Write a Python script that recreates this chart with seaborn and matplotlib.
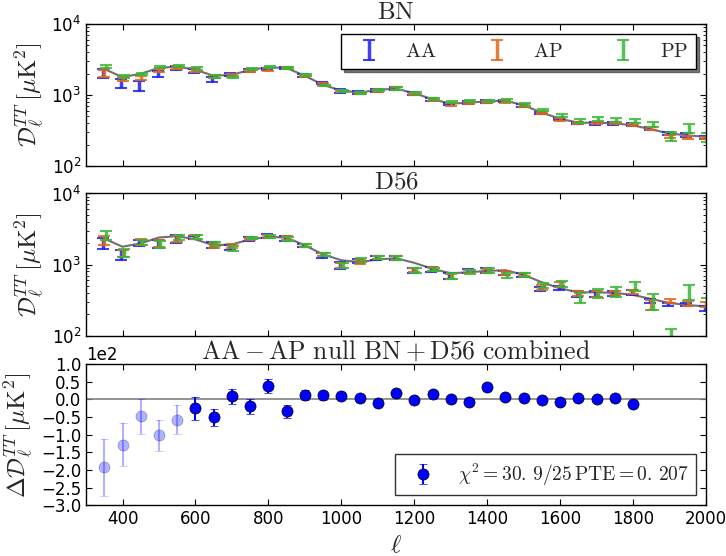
import numpy as np
import pandas as pd
import seaborn as sns
import matplotlib
matplotlib.use('Agg')
import matplotlib.pyplot as plt
from matplotlib.ticker import ScalarFormatter

# multipole bin centres
ell = np.arange(350, 2001, 50)

# binned theory spectrum
theory = [2320, 1780, 1990, 2400, 2510, 2260, 1860, 1920, 2260, 2455, 2390, 1860,
          1385, 1150, 1080, 1178, 1227, 1057, 869, 753, 778, 815, 831, 715,
          562, 462, 406, 406, 398, 373, 327, 287, 269, 257]

# BN patch
bn_aa = [2010, 1450, 1360, 1960, 2410, 2170, 1680, 1960, 2210, 2300, 2370, 1900,
         1470, 1140, 1075, 1150, 1230, 1045, 860, 745, 788, 812, 820, 715,
         556, 460, 403, 398, 398, 381, 335, 286, 272, 252]
bn_aa_err = [290, 210, 215, 180, 155, 140, 135, 105, 95, 80, 70, 85,
             55, 60, 55, 60, 50, 45, 38, 32, 34, 35, 33, 31,
             24, 18, 18, 22, 22, 16, 15, 17, 15, 14]
bn_ap = [2010, 1700, 1730, 2190, 2410, 2230, 1820, 1880, 2165, 2270, 2370, 1850,
         1400, 1140, 1060, 1130, 1230, 1040, 860, 735, 770, 795, 815, 715,
         550, 452, 400, 400, 403, 377, 335, 258, 250, 250]
bn_ap_err = [200, 110, 90, 120, 105, 155, 100, 100, 95, 110, 65, 70,
             60, 45, 40, 40, 45, 40, 35, 30, 32, 32, 35, 30,
             18, 18, 15, 15, 18, 14, 15, 14, 14, 8]
bn_pp = [2520, 1820, 1990, 2480, 2550, 2325, 1820, 1790, 2300, 2480, 2380, 1900,
         1360, 1120, 1060, 1185, 1230, 1065, 870, 790, 815, 825, 835, 730,
         610, 516, 433, 458, 443, 425, 380, 265, 341, 253]
bn_pp_err = [140, 100, 75, 95, 110, 115, 100, 70, 85, 95, 65, 80,
             40, 35, 40, 45, 45, 35, 30, 30, 31, 32, 30, 30,
             24, 22, 24, 25, 24, 28, 30, 38, 48, 34]

# D56 patch
d56_aa = [2000, 1390, 2035, 1945, 2320, 2410, 1875, 1760, 2290, 2540, 2320, 1865,
          1350, 970, 1120, 1230, 1245, 830, 845, 688, 808, 822, 757, 709,
          459, 470, 385, 385, 395, 406, 304, 272, 272, 242]
d56_aa_err = [355, 225, 200, 240, 310, 150, 170, 145, 175, 180, 200, 100,
              95, 100, 75, 70, 80, 60, 65, 67, 52, 67, 42, 46,
              30, 30, 32, 32, 35, 33, 20, 12, 15, 18]
d56_ap = [2220, 1425, 2095, 2000, 2285, 2450, 1830, 1835, 2290, 2500, 2360, 1880,
          1390, 975, 1100, 1245, 1245, 840, 870, 690, 800, 808, 757, 720,
          478, 532, 390, 385, 400, 415, 273, 304, 285, 278]
d56_ap_err = [325, 155, 195, 235, 235, 130, 120, 130, 100, 140, 120, 90,
              80, 90, 70, 55, 70, 50, 47, 55, 45, 55, 42, 40,
              38, 43, 28, 32, 30, 25, 44, 20, 25, 22]
d56_pp = [2590, 1460, 2070, 1910, 2410, 2450, 1940, 1685, 2360, 2500, 2300, 1865,
          1390, 975, 1155, 1245, 1245, 830, 860, 685, 781, 830, 698, 710,
          505, 541, 339, 391, 412, 500, 307, 95, 417, 215]
d56_pp_err = [405, 190, 170, 210, 220, 130, 105, 150, 100, 140, 150, 90,
              80, 70, 75, 55, 70, 60, 45, 65, 43, 65, 57, 46,
              40, 52, 55, 57, 67, 70, 78, 28, 100, 120]

# AA - AP null, BN + D56 combined
null_ell = np.arange(350, 1801, 50)
null_val = [-193, -128, -48, -102, -57, -25, -51, 9, -20, 38, -34, 12, 12, 9, 3,
            -9, 17, -3, 15, 0, -6, 34, 8, 3, -3, -6, 5, 0, 3, -14]
null_err = [80, 60, 49, 45, 40, 32, 25, 21, 20, 20, 18, 15, 13, 12, 11,
            10, 10, 10, 10, 9, 9, 9, 8, 8, 8, 8, 8, 8, 8, 8]
ell_min_fit = 600
chi2_label = r'$\chi^2 = 30.\,9/25\,\mathrm{PTE} = 0.\,207$'

sns.set_style('ticks')
plt.rcParams.update({
    'font.family': ['DejaVu Sans'],
    'font.size': 12,
    'mathtext.fontset': 'cm',
    'xtick.direction': 'in', 'ytick.direction': 'in',
    'xtick.top': True, 'ytick.right': True,
    'xtick.major.size': 4, 'ytick.major.size': 4,
    'xtick.minor.size': 2, 'ytick.minor.size': 2,
    'xtick.labelsize': 12, 'ytick.labelsize': 12,
    'axes.edgecolor': 'black', 'axes.linewidth': 1.0,
    'xtick.color': 'black', 'ytick.color': 'black',
    'legend.fancybox': False,
})

colors = {'AA': '#2020f0', 'AP': '#e06818', 'PP': '#38b838'}
offsets = {'AA': -4, 'AP': 0, 'PP': 4}

fig = plt.figure(figsize=(7.26, 5.56), dpi=100)
ax1 = fig.add_axes([0.1185, 0.7015, 0.854, 0.2555])
ax2 = fig.add_axes([0.1185, 0.3965, 0.854, 0.2555])
ax3 = fig.add_axes([0.1185, 0.0915, 0.854, 0.2535])

ylab = r'$\mathcal{D}_\ell^{TT}\,[\mu\mathrm{K}^2]$'
panels = [
    (ax1, 'BN', {'AA': (bn_aa, bn_aa_err), 'AP': (bn_ap, bn_ap_err), 'PP': (bn_pp, bn_pp_err)}),
    (ax2, 'D56', {'AA': (d56_aa, d56_aa_err), 'AP': (d56_ap, d56_ap_err), 'PP': (d56_pp, d56_pp_err)}),
]
for ax, name, spectra in panels:
    sns.lineplot(x=ell, y=theory, color='#707070', lw=1.5, ax=ax, zorder=1)
    for key, (val, err) in spectra.items():
        ax.errorbar(ell + offsets[key], val, yerr=err, fmt='none', ecolor=colors[key],
                    elinewidth=2.5, capsize=4.5, capthick=1.5, alpha=0.85, label=key)
    ax.set_yscale('log')
    ax.set_ylim(1e2, 1e4)
    ax.set_xlim(300, 2000)
    ax.set_xticks(np.arange(400, 2001, 200))
    ax.set_xticklabels([])
    ax.set_ylabel(ylab, fontsize=18)
    ax.set_title(r'$\mathrm{%s}$' % name, fontsize=18, pad=0)

leg = ax1.legend(loc='upper right', ncol=3, handlelength=2.0,
                 handletextpad=0.8, columnspacing=2.0, borderpad=0.4,
                 frameon=True, shadow={'color': '0.15', 'alpha': 0.6},
                 prop={'size': 14.5})
leg.get_frame().set_edgecolor('black')
for t in leg.get_texts():
    t.set_text(r'$\mathrm{%s}$' % t.get_text())

# null test panel
null_df = pd.DataFrame({'ell': null_ell, 'val': null_val, 'err': null_err})
faint = null_df[null_df['ell'] < ell_min_fit]
used = null_df[null_df['ell'] >= ell_min_fit]
ax3.axhline(0, color='#808080', lw=1.2, zorder=1)
ax3.errorbar(faint['ell'], faint['val'], yerr=faint['err'], fmt='o', color='b',
             ms=8, mec='black', mew=0.5, capsize=3, alpha=0.3)
ax3.errorbar(used['ell'], used['val'], yerr=used['err'], fmt='o', color='b',
             ms=8, mec='black', mew=0.5, capsize=3, label=chi2_label)
ax3.set_xlim(300, 2000)
ax3.set_ylim(-300, 100)
ax3.set_xticks(np.arange(400, 2001, 200))
ax3.set_yticks(np.arange(-300, 101, 50))
fmt = ScalarFormatter(useMathText=False)
fmt.set_powerlimits((0, 0))
ax3.yaxis.set_major_formatter(fmt)
ax3.set_ylabel(r'$\Delta\mathcal{D}_\ell^{TT}\,[\mu\mathrm{K}^2]$', fontsize=18)
ax3.set_xlabel(r'$\ell$', fontsize=18)
ax3.set_title(r'$\mathrm{AA-AP\ null\ BN+D56\ combined}$', fontsize=18.5, pad=1)
leg3 = ax3.legend(loc='lower right', fontsize=14, numpoints=1, frameon=True)
leg3.get_frame().set_edgecolor('black')

fig.savefig('out.png', dpi=100)
